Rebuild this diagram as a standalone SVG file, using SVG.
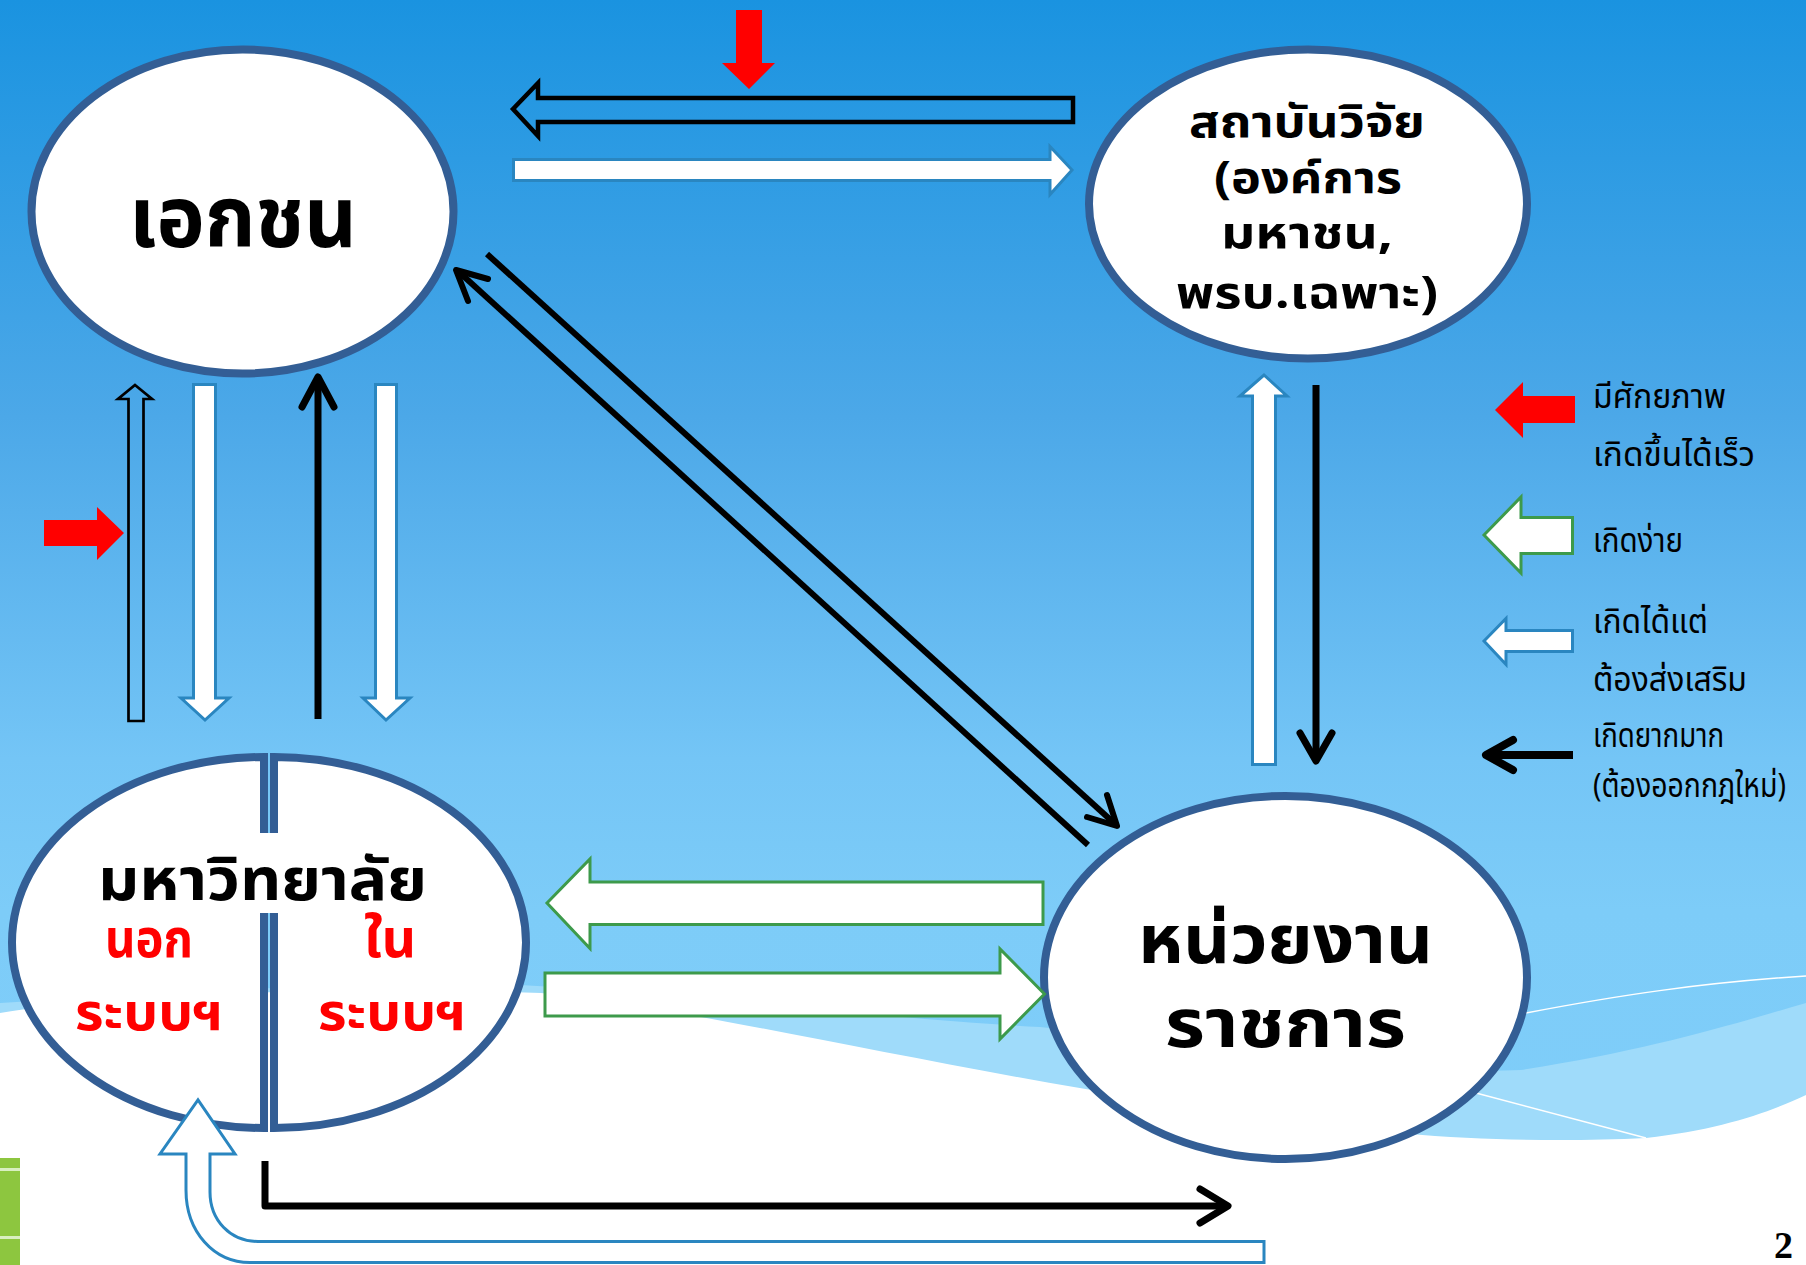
<svg xmlns="http://www.w3.org/2000/svg" width="1806" height="1265" viewBox="0 0 1806 1265">
<defs>
<linearGradient id="bg" x1="0" y1="0" x2="0" y2="1">
<stop offset="0" stop-color="#1a93e0"/>
<stop offset="0.33" stop-color="#4ca8e8"/>
<stop offset="0.6" stop-color="#74c5f6"/>
<stop offset="0.72" stop-color="#7dccf8"/>
<stop offset="1" stop-color="#80cefa"/>
</linearGradient>
<style>
.node{fill:#fff;stroke:#335e95;stroke-width:8}
.th{font-family:"Noto Sans Thai","Noto Sans","DejaVu Sans",sans-serif;font-weight:bold;fill:#000}
.red{fill:#f00}
.leg{font-family:"Noto Sans Thai","Noto Sans","DejaVu Sans",sans-serif;font-weight:normal;fill:#000;font-size:33px}
.line{fill:none;stroke:#000;stroke-width:7;stroke-linecap:butt;stroke-linejoin:round}
.chev{fill:none;stroke:#000;stroke-width:7;stroke-linecap:round;stroke-linejoin:round}
.diag{fill:none;stroke:#000;stroke-width:6;stroke-linecap:butt}
.dchev{fill:none;stroke:#000;stroke-width:6;stroke-linecap:round;stroke-linejoin:round}
.blue{fill:#fff;stroke:#2a86c0;stroke-width:3}
.green{fill:#fff;stroke:#3d9a4b;stroke-width:3}
.redf{fill:#f00}
</style>
</defs>
<rect x="0" y="0" width="1806" height="1265" fill="url(#bg)"/>
<g id="background-wave">
<path d="M0,1003 C200,990 400,980 520,985 C700,995 900,1020 1040,1027 C1250,1050 1400,1075 1521,1070 C1650,1050 1730,1025 1806,1003 L1806,1265 L0,1265 Z" fill="#9fdbfa"/>
<path d="M0,1013 C100,997 300,985 541,993 C700,1010 900,1060 1152,1100 C1350,1135 1500,1145 1646,1138 C1720,1130 1770,1112 1806,1095 L1806,1265 L0,1265 Z" fill="#ffffff"/>
<path d="M1526,1013 C1620,995 1700,983 1806,976" fill="none" stroke="#fff" stroke-width="1.5"/>
<path d="M1476,1093 L1646,1138" fill="none" stroke="#fff" stroke-width="1.5"/>
<rect x="0" y="1158" width="20" height="107" fill="#8dc63f"/>
<rect x="0" y="1168" width="20" height="3" fill="#d9efc0"/>
<rect x="0" y="1236" width="20" height="3" fill="#d9efc0"/>
</g>
<g id="node-ekachon">
<ellipse class="node" cx="242.5" cy="211.5" rx="211" ry="162"/>
<text class="th" x="129" y="247" font-size="86" textLength="228" lengthAdjust="spacingAndGlyphs">เอกชน</text>
</g>
<g id="node-sathaban">
<ellipse class="node" cx="1308" cy="204" rx="219" ry="154.5"/>
<text class="th" x="1189" y="137" font-size="44" textLength="236" lengthAdjust="spacingAndGlyphs">สถาบันวิจัย</text>
<text class="th" x="1214" y="193" font-size="44" textLength="188" lengthAdjust="spacingAndGlyphs">(องค์การ</text>
<text class="th" x="1221" y="248" font-size="44" textLength="172" lengthAdjust="spacingAndGlyphs">มหาชน,</text>
<text class="th" x="1176" y="308" font-size="44" textLength="262" lengthAdjust="spacingAndGlyphs">พรบ.เฉพาะ)</text>
</g>
<g id="node-mahawitthayalai">
<path class="node" d="M264,757 A252,185.5 0 0 0 264,1128 Z"/>
<path class="node" d="M274,757 A252,185.5 0 0 1 274,1128 Z"/>
<rect x="96" y="833" width="336" height="80" fill="#fff"/>
<text class="th" x="98" y="900" font-size="58" textLength="329" lengthAdjust="spacingAndGlyphs">มหาวิทยาลัย</text>
<text class="th red" x="105" y="957" font-size="54" textLength="88" lengthAdjust="spacingAndGlyphs">นอก</text>
<text class="th red" x="364" y="957" font-size="54" textLength="52" lengthAdjust="spacingAndGlyphs">ใน</text>
<text class="th red" x="75" y="1030" font-size="52" textLength="148" lengthAdjust="spacingAndGlyphs">ระบบฯ</text>
<text class="th red" x="318" y="1030" font-size="52" textLength="148" lengthAdjust="spacingAndGlyphs">ระบบฯ</text>
</g>
<g id="node-nuayngan">
<ellipse class="node" cx="1285.5" cy="977.5" rx="241.5" ry="181.5"/>
<text class="th" x="1138" y="963" font-size="68" textLength="295" lengthAdjust="spacingAndGlyphs">หน่วยงาน</text>
<text class="th" x="1165" y="1047" font-size="68" textLength="241" lengthAdjust="spacingAndGlyphs">ราชการ</text>
</g>
<g id="connectors">
<polygon points="513,109 538,83 538,98 1073,98 1073,122 538,122 538,136" fill="none" stroke="#000" stroke-width="4.5" stroke-linejoin="miter"/>
<polygon class="redf" points="736,10 762,10 762,63 775,63 749,89 722,63 736,63"/>
<polygon class="blue" points="513.5,159.5 1050,159.5 1050,146.5 1072,170 1050,194.5 1050,180.5 513.5,180.5"/>
<polygon points="135,385 152,399 143.5,399 143.5,721 128.5,721 128.5,399 118,399" fill="none" stroke="#000" stroke-width="2.7"/>
<polygon class="redf" points="44,520 97,520 97,507 124,533 97,560 97,546 44,546"/>
<polygon class="blue" points="193.5,384.5 215.5,384.5 215.5,698 229,698 205,720 181,698 193.5,698"/>
<path class="line" d="M318,719 L318,380"/>
<path class="chev" d="M302,407 L318,377 L334,407"/>
<polygon class="blue" points="375.5,384.5 396.5,384.5 396.5,698 410,698 386,720 363,698 375.5,698"/>
<path class="diag" d="M487,254 L1114,823"/>
<path class="dchev" d="M1107,795 L1117,826 L1087,817"/>
<path class="diag" d="M1088,845 L459,272"/>
<path class="dchev" d="M488,279 L456,270 L468,301"/>
<polygon class="blue" points="1264,375 1287,396 1275.5,396 1275.5,764.5 1252.5,764.5 1252.5,396 1240,396"/>
<path class="line" d="M1316,385 L1316,758"/>
<path class="chev" d="M1300,733 L1316,761 L1332,733"/>
<polygon class="green" points="547,903 590,859 590,882 1043,882 1043,924.5 590,924.5 590,948.5"/>
<polygon class="green" points="545,973 1000,973 1000,949 1044.5,994 1000,1039 1000,1016 545,1016"/>
<path class="line" d="M265,1161 L265,1206 L1226,1206"/>
<path class="chev" d="M1200,1189 L1228,1206 L1200,1223"/>
<path class="blue" d="M1264,1241.5 L258,1241.5 C230,1241.5 210,1220 210,1192 L210,1154 L235,1154 L198,1100 L160,1154 L186,1154 L186,1190 C186,1232 214,1262.5 250,1262.5 L1264,1262.5 Z"/>
</g>
<g id="legend">
<polygon class="redf" points="1495,410 1523,382 1523,396 1575,396 1575,423 1523,423 1523,438"/>
<polygon class="green" points="1484,535 1521,497 1521,517.5 1572.5,517.5 1572.5,553.5 1521,553.5 1521,573"/>
<polygon class="blue" points="1484,641 1506,618.5 1506,630.5 1572.5,630.5 1572.5,651.5 1506,651.5 1506,664.5"/>
<path fill="none" stroke="#000" stroke-width="8" d="M1573,755 L1489,755"/>
<path fill="none" stroke="#000" stroke-width="8" stroke-linecap="round" stroke-linejoin="round" d="M1513,740 L1486,755 L1513,770"/>
<text class="leg" x="1593" y="408" textLength="133" lengthAdjust="spacingAndGlyphs">มีศักยภาพ</text>
<text class="leg" x="1593" y="466" textLength="162" lengthAdjust="spacingAndGlyphs">เกิดขึ้นได้เร็ว</text>
<text class="leg" x="1593" y="552" textLength="90" lengthAdjust="spacingAndGlyphs">เกิดง่าย</text>
<text class="leg" x="1593" y="633" textLength="115" lengthAdjust="spacingAndGlyphs">เกิดได้แต่</text>
<text class="leg" x="1593" y="691" textLength="154" lengthAdjust="spacingAndGlyphs">ต้องส่งเสริม</text>
<text class="leg" x="1593" y="747" textLength="131" lengthAdjust="spacingAndGlyphs">เกิดยากมาก</text>
<text class="leg" x="1593" y="797" font-size="30" textLength="193" lengthAdjust="spacingAndGlyphs">(ต้องออกกฎใหม่)</text>
</g>
<text x="1774" y="1258" font-family="'Liberation Serif',serif" font-weight="bold" font-size="38" fill="#000">2</text>
</svg>
